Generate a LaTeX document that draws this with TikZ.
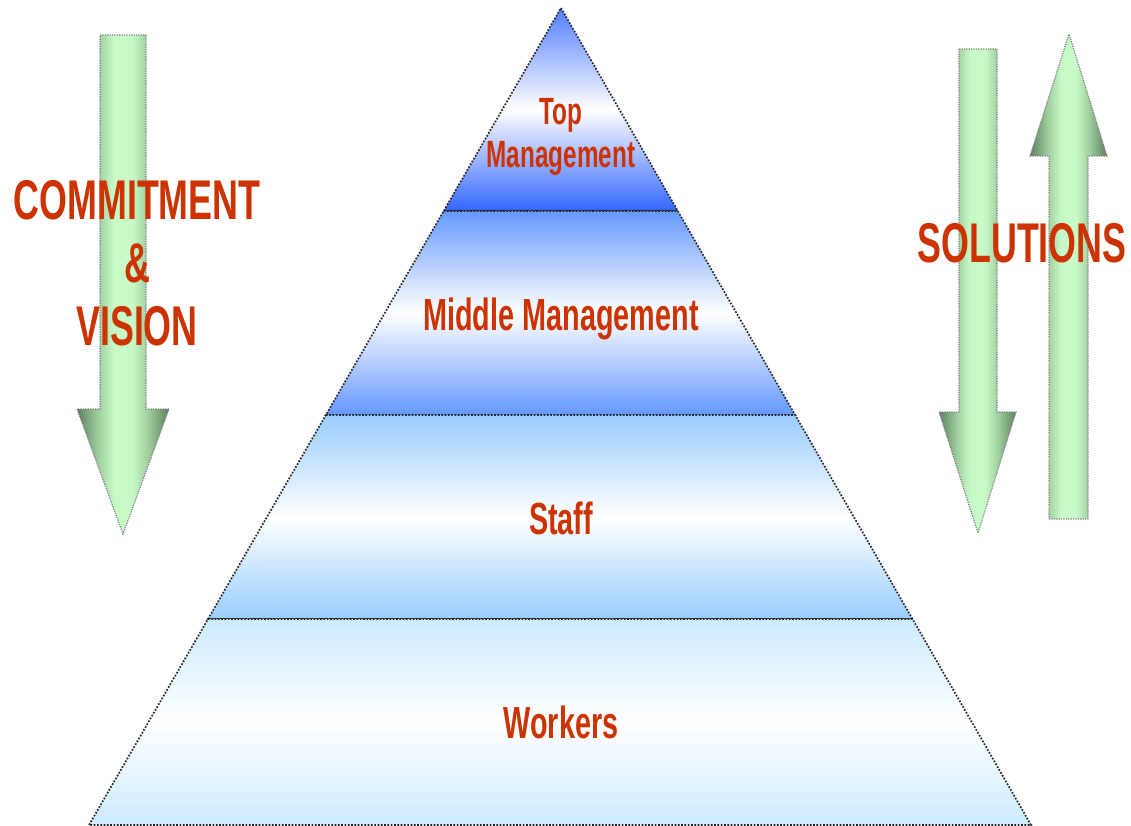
\documentclass[tikz,border=0pt]{standalone}
\usepackage{fontspec}
\usepackage{tikz}
\usetikzlibrary{calc}

\newfontfamily\agency[FakeStretch=0.64]{Liberation Sans}

\definecolor{labelred}{HTML}{CC3300}
\definecolor{arrowdark}{HTML}{5E7F5E}
\definecolor{arrowmid}{HTML}{9CCB9C}
\definecolor{arrowlight}{HTML}{C8FAC8}
\definecolor{topblue}{HTML}{3366FF}
\definecolor{midblue}{HTML}{6699FF}
\definecolor{staffblue}{HTML}{99CCFF}
\definecolor{workerblue}{HTML}{CCEBFF}

\pgfdeclarehorizontalshading{greenarrow}{100bp}{color(0bp)=(arrowdark); color(25bp)=(arrowdark); color(36bp)=(arrowmid); color(45bp)=(arrowlight); color(55bp)=(arrowlight); color(64bp)=(arrowmid); color(75bp)=(arrowdark); color(100bp)=(arrowdark)}

\tikzset{
    layer/.style={draw=black!85, line width=1.7pt, dash pattern=on 1.7pt off 1.6pt},
    bigarrow/.style={draw=gray, line width=1.2pt, dash pattern=on 1.2pt off 1.2pt, shade, shading=greenarrow},
    sidetext/.style={font=\agency\bfseries\fontsize{56}{63}\selectfont, text=labelred, align=center},
    layertext/.style={font=\agency\bfseries\fontsize{45}{45}\selectfont, text=labelred, align=center}
}

\begin{document}
\begin{tikzpicture}[x=1pt, y=-1pt]
        \useasboundingbox (0,0) rectangle (1131,826);

        % Pyramid corners
        \coordinate (apex) at (561,8);
        \coordinate (baseL) at (89,825);
        \coordinate (baseR) at (1031,825);
        \coordinate (l1) at ($(apex)!0.2485!(baseL)$);
        \coordinate (r1) at ($(apex)!0.2485!(baseR)$);
        \coordinate (l2) at ($(apex)!0.4982!(baseL)$);
        \coordinate (r2) at ($(apex)!0.4982!(baseR)$);
        \coordinate (l3) at ($(apex)!0.7479!(baseL)$);
        \coordinate (r3) at ($(apex)!0.7479!(baseR)$);

        % Layers
        \draw[layer, top color=topblue!85, bottom color=topblue, middle color=white] (apex) -- (r1) -- (l1) -- cycle;
        \draw[layer, top color=midblue, bottom color=midblue!95!topblue, middle color=white] (l1) -- (r1) -- (r2) -- (l2) -- cycle;
        \draw[layer, top color=staffblue, bottom color=staffblue, middle color=white] (l2) -- (r2) -- (r3) -- (l3) -- cycle;
        \draw[layer, top color=workerblue, bottom color=workerblue, middle color=white] (l3) -- (r3) -- (baseR) -- (baseL) -- cycle;

        % Left arrow
        \draw[bigarrow] (100,35) -- (146,35) -- (146,409) -- (169,409) -- (123,534) -- (77,409) -- (100,409) -- cycle;

        % Right arrows
        \draw[bigarrow] (959,49) -- (997,49) -- (997,412) -- (1016,412) -- (978,533) -- (939,412) -- (959,412) -- cycle;
        \draw[bigarrow] (1049,519) -- (1088,519) -- (1088,156) -- (1107,156) -- (1069,34) -- (1030,156) -- (1049,156) -- cycle;

        % Side labels
        \node[sidetext] (commitment) at (137,263) {COMMITMENT\\\&\\VISION};
        \node[sidetext] (solutions) at (1022,243) {SOLUTIONS};

        % Layer labels
        \node[layertext, font=\agency\bfseries\fontsize{38}{43}\selectfont] (topmgmt) at (561,137) {Top\\Management};
        \node[layertext, anchor=base] (midmgmt) at (561,330) {Middle Management};
        \node[layertext, anchor=base] (staff) at (561,534) {Staff};
        \node[layertext, anchor=base] (workers) at (561,738) {Workers};
    \end{tikzpicture}
\end{document}
